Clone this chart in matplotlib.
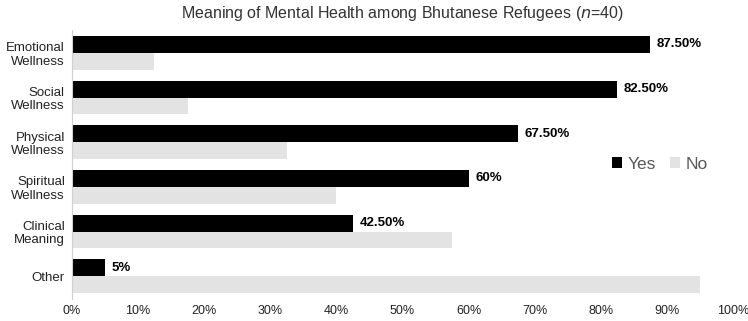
import numpy as np
import matplotlib.pyplot as plt

plt.rcParams['font.family'] = ['Liberation Sans', 'DejaVu Sans']

categories = ['Emotional\nWellness', 'Social\nWellness', 'Physical\nWellness',
              'Spiritual\nWellness', 'Clinical\nMeaning', 'Other']
yes_vals = [87.5, 82.5, 67.5, 60, 42.5, 5]
no_vals = [12.5, 17.5, 32.5, 40, 57.5, 95]
yes_labels = ['87.50%', '82.50%', '67.50%', '60%', '42.50%', '5%']

fig = plt.figure(figsize=(7.48, 3.21), dpi=100)
ax = fig.add_axes([0.096, 0.07, 0.884, 0.835])

y = np.arange(len(categories))
h = 0.38
ax.barh(y - h / 2, yes_vals, height=h, color='black', label='Yes')
ax.barh(y + h / 2, no_vals, height=h, color='#e3e3e3', label='No')

for yi, v, lab in zip(y, yes_vals, yes_labels):
    ax.text(v + 1, yi - h / 2, lab, va='center', ha='left',
            fontsize=9.5, fontweight='bold', color='black')

ax.set_ylim(len(categories) - 0.5, -0.5)
ax.set_xlim(0, 100)
ax.set_yticks(y)
ax.set_yticklabels(categories, fontsize=9.5, color='#222222', linespacing=1.15)
ax.set_xticks(np.arange(0, 101, 10))
ax.set_xticklabels([f'{t}%' for t in range(0, 101, 10)], fontsize=9, color='#222222')
ax.tick_params(axis='x', length=0, pad=5)
ax.tick_params(axis='y', length=0, pad=5)
for s in ['top', 'right', 'bottom']:
    ax.spines[s].set_visible(False)
ax.spines['left'].set_color('#d0d0d0')

ax.set_title('Meaning of Mental Health among Bhutanese Refugees ($\\it{n}$=40)',
             fontsize=11.5, color='#333333', pad=9)

leg = ax.legend(loc='center right', bbox_to_anchor=(0.985, 0.5), ncol=2, frameon=False,
                fontsize=12.5, handlelength=0.6, handleheight=0.6, handletextpad=0.3,
                columnspacing=0.8)
for t in leg.get_texts():
    t.set_color('#595959')

fig.savefig('out.png', dpi=100)
